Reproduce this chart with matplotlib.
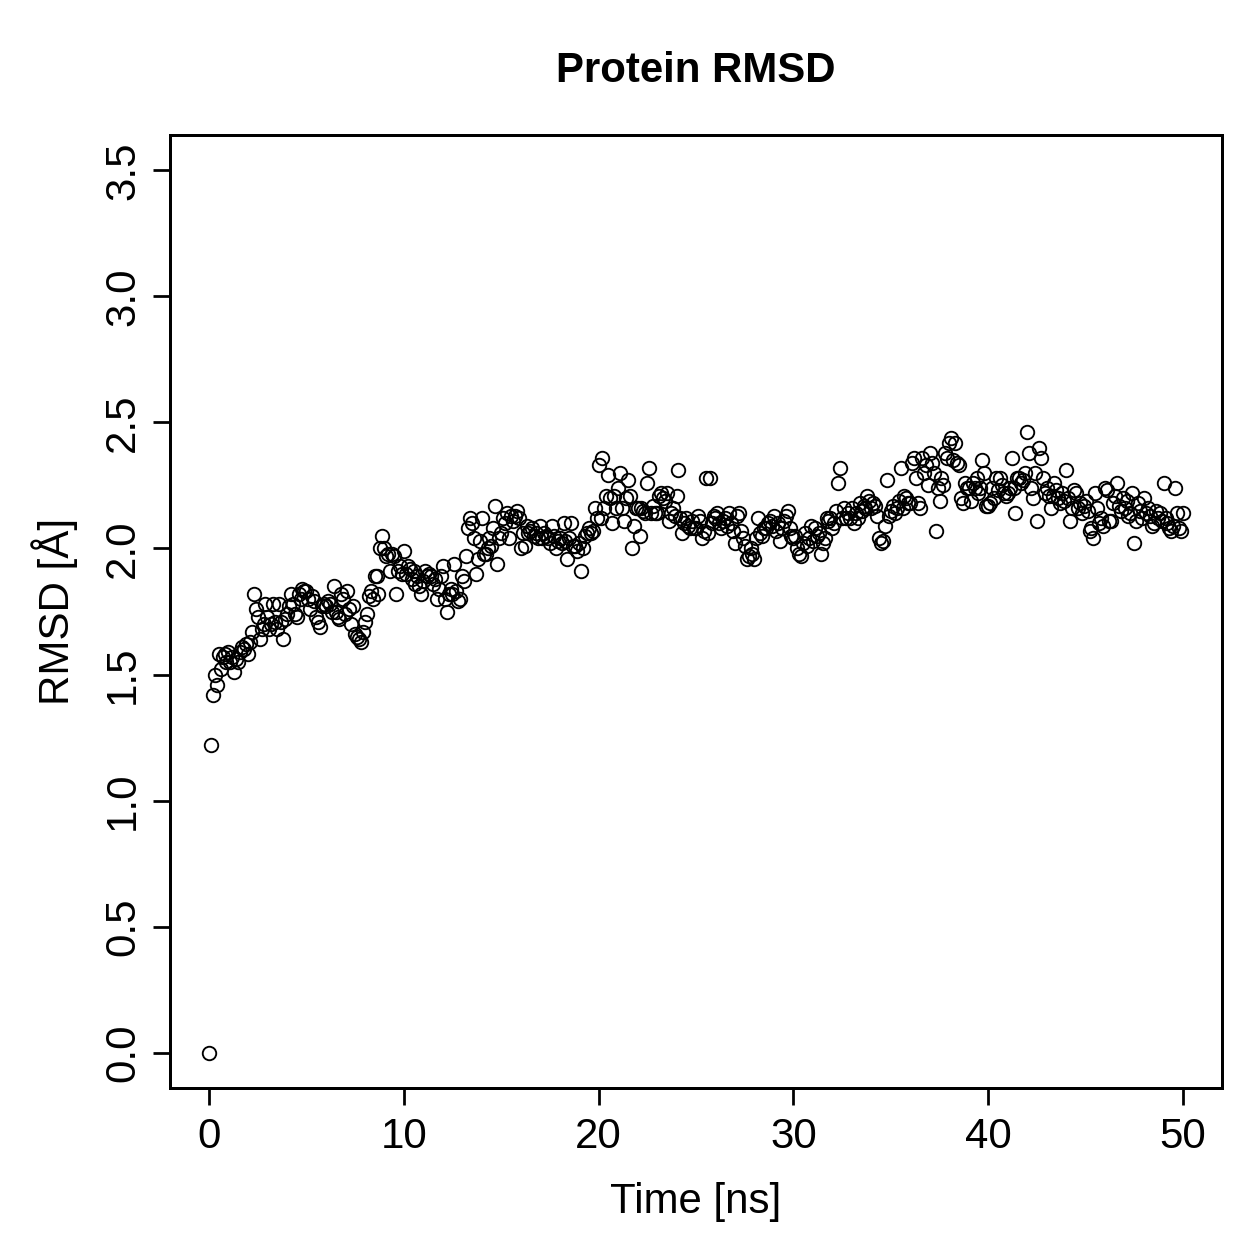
#!/usr/bin/env python3
"""Protein RMSD over a 50 ns trajectory, drawn in the style of an R base plot."""

import matplotlib
matplotlib.use("Agg")
import matplotlib.pyplot as plt
import numpy as np

# time grid: one frame every 0.1 ns, 0 .. 50 ns
time_ns = np.round(np.arange(501) * 0.1, 1)

# RMSD values in Angstrom, ten frames per row (one row per ns)
rmsd = [
    0.00, 1.22, 1.42, 1.50, 1.46, 1.58, 1.52, 1.57, 1.58, 1.55,
    1.59, 1.55, 1.57, 1.51, 1.56, 1.55, 1.59, 1.61, 1.60, 1.62,
    1.58, 1.63, 1.67, 1.82, 1.76, 1.73, 1.64, 1.68, 1.70, 1.78,
    1.73, 1.68, 1.70, 1.78, 1.71, 1.68, 1.78, 1.71, 1.64, 1.72,
    1.74, 1.77, 1.82, 1.78, 1.74, 1.73, 1.82, 1.80, 1.84, 1.83,
    1.83, 1.80, 1.76, 1.81, 1.79, 1.73, 1.71, 1.69, 1.77, 1.78,
    1.77, 1.79, 1.78, 1.75, 1.85, 1.75, 1.73, 1.72, 1.82, 1.80,
    1.74, 1.83, 1.76, 1.70, 1.77, 1.66, 1.65, 1.64, 1.63, 1.67,
    1.71, 1.74, 1.81, 1.83, 1.80, 1.89, 1.89, 1.82, 2.00, 2.05,
    2.00, 1.97, 1.98, 1.91, 1.98, 1.97, 1.82, 1.91, 1.93, 1.90,
    1.99, 1.90, 1.93, 1.92, 1.88, 1.91, 1.86, 1.89, 1.85, 1.82,
    1.87, 1.91, 1.89, 1.90, 1.89, 1.86, 1.88, 1.80, 1.84, 1.89,
    1.93, 1.80, 1.75, 1.82, 1.84, 1.82, 1.94, 1.83, 1.79, 1.80,
    1.89, 1.87, 1.97, 2.08, 2.12, 2.10, 2.04, 1.90, 1.96, 2.03,
    2.12, 1.98, 1.98, 2.00, 2.04, 2.01, 2.08, 2.17, 1.94, 2.04,
    2.06, 2.12, 2.10, 2.14, 2.04, 2.13, 2.11, 2.13, 2.15, 2.12,
    2.00, 2.06, 2.01, 2.09, 2.06, 2.07, 2.08, 2.05, 2.06, 2.04,
    2.09, 2.04, 2.06, 2.05, 2.04, 2.02, 2.09, 2.05, 2.00, 2.03,
    2.04, 2.02, 2.10, 2.03, 1.96, 2.04, 2.10, 2.01, 2.01, 1.99,
    2.02, 1.91, 2.00, 2.05, 2.06, 2.08, 2.06, 2.07, 2.16, 2.12,
    2.33, 2.12, 2.36, 2.16, 2.21, 2.29, 2.20, 2.10, 2.21, 2.16,
    2.24, 2.30, 2.16, 2.11, 2.20, 2.27, 2.21, 2.00, 2.09, 2.16,
    2.16, 2.05, 2.16, 2.15, 2.14, 2.26, 2.32, 2.14, 2.17, 2.14,
    2.14, 2.21, 2.22, 2.20, 2.19, 2.22, 2.11, 2.14, 2.16, 2.13,
    2.21, 2.31, 2.12, 2.06, 2.10, 2.12, 2.09, 2.08, 2.11, 2.08,
    2.08, 2.13, 2.11, 2.04, 2.07, 2.28, 2.06, 2.28, 2.10, 2.13,
    2.12, 2.14, 2.10, 2.08, 2.11, 2.12, 2.09, 2.14, 2.10, 2.07,
    2.02, 2.13, 2.14, 2.07, 2.04, 2.01, 1.96, 1.97, 2.00, 1.98,
    1.96, 2.04, 2.12, 2.06, 2.05, 2.08, 2.08, 2.10, 2.11, 2.09,
    2.13, 2.07, 2.10, 2.03, 2.08, 2.11, 2.13, 2.15, 2.08, 2.05,
    2.04, 2.05, 2.00, 1.98, 1.97, 2.02, 2.06, 2.01, 2.04, 2.09,
    2.03, 2.08, 2.05, 2.06, 1.98, 2.02, 2.04, 2.12, 2.11, 2.12,
    2.08, 2.10, 2.15, 2.26, 2.32, 2.12, 2.16, 2.12, 2.14, 2.12,
    2.16, 2.10, 2.14, 2.12, 2.18, 2.15, 2.17, 2.16, 2.21, 2.19,
    2.16, 2.18, 2.17, 2.13, 2.04, 2.02, 2.03, 2.09, 2.27, 2.13,
    2.15, 2.17, 2.14, 2.16, 2.19, 2.32, 2.16, 2.21, 2.20, 2.18,
    2.18, 2.34, 2.36, 2.28, 2.18, 2.16, 2.36, 2.30, 2.33, 2.25,
    2.38, 2.34, 2.30, 2.07, 2.24, 2.19, 2.28, 2.25, 2.38, 2.36,
    2.42, 2.44, 2.35, 2.42, 2.34, 2.33, 2.20, 2.18, 2.26, 2.24,
    2.24, 2.19, 2.26, 2.24, 2.28, 2.22, 2.24, 2.35, 2.30, 2.17,
    2.17, 2.18, 2.24, 2.20, 2.28, 2.23, 2.28, 2.25, 2.22, 2.21,
    2.22, 2.24, 2.36, 2.24, 2.14, 2.28, 2.28, 2.26, 2.27, 2.30,
    2.46, 2.38, 2.24, 2.20, 2.30, 2.11, 2.40, 2.36, 2.28, 2.22,
    2.24, 2.21, 2.16, 2.21, 2.26, 2.23, 2.20, 2.18, 2.22, 2.19,
    2.31, 2.20, 2.11, 2.16, 2.23, 2.22, 2.16, 2.18, 2.14, 2.17,
    2.19, 2.15, 2.07, 2.08, 2.04, 2.22, 2.16, 2.10, 2.12, 2.09,
    2.24, 2.23, 2.11, 2.11, 2.18, 2.21, 2.26, 2.17, 2.15, 2.20,
    2.16, 2.19, 2.13, 2.14, 2.22, 2.02, 2.11, 2.18, 2.15, 2.12,
    2.20, 2.14, 2.16, 2.13, 2.09, 2.10, 2.15, 2.12, 2.14, 2.11,
    2.26, 2.12, 2.10, 2.08, 2.07, 2.09, 2.24, 2.14, 2.08, 2.07,
    2.14,
]

x_ticks = [0, 10, 20, 30, 40, 50]
y_ticks = [0.0, 0.5, 1.0, 1.5, 2.0, 2.5, 3.0, 3.5]
y_ticklabels = [f"{v:.1f}" for v in y_ticks]

plt.rcParams["font.family"] = ["Liberation Sans", "DejaVu Sans"]
FS = 16.8

fig = plt.figure(figsize=(1259 / 180, 1259 / 180), dpi=180)
ax = fig.add_axes([170 / 1259, 1 - 1088 / 1259, (1222 - 170) / 1259, (1088 - 135) / 1259])

ax.plot(time_ns, rmsd, linestyle="none", marker="o", markersize=5.4,
        markerfacecolor="none", markeredgecolor="black", markeredgewidth=0.75)

ax.set_xlim(-2, 52)
ax.set_ylim(-0.14, 3.64)
ax.set_xticks(x_ticks)
ax.set_yticks(y_ticks)
ax.set_yticklabels(y_ticklabels, rotation=90, va="center")
ax.tick_params(axis="both", direction="out", length=6.8, width=1.1, labelsize=FS)
ax.tick_params(axis="x", pad=5)
ax.tick_params(axis="y", pad=4)
for side in ax.spines.values():
    side.set_linewidth(1.2)

ax.set_xlabel("Time [ns]", fontsize=FS, labelpad=10)
ax.set_ylabel("RMSD [Å]", fontsize=FS, labelpad=10)
ax.set_title("Protein RMSD", fontsize=FS, fontweight="bold", pad=21)

fig.savefig("out.png", dpi=180)
plt.close(fig)
